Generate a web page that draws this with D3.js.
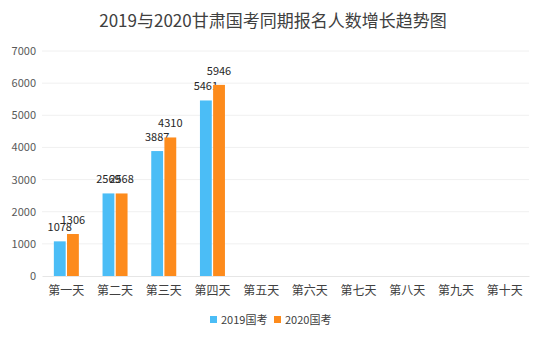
<!DOCTYPE html>
<html>
<head>
<meta charset="utf-8">
<script src="https://cdn.jsdelivr.net/npm/d3@7"></script>
<style>
  html, body { margin: 0; padding: 0; background: #fff; }
  svg { display: block; font-family: "Noto Sans CJK SC", "Noto Sans", sans-serif; }
</style>
</head>
<body>
<svg id="chart" width="546" height="340"></svg>
<script>
// Registration counts for each of the first ten days
const days = ["第一天", "第二天", "第三天", "第四天", "第五天", "第六天", "第七天", "第八天", "第九天", "第十天"];
const seriesNames = ["2019国考", "2020国考"];
const values2019 = [1078, 2569, 3887, 5461, null, null, null, null, null, null];
const values2020 = [1306, 2568, 4310, 5946, null, null, null, null, null, null];
const yTicks = [0, 1000, 2000, 3000, 4000, 5000, 6000, 7000];
const colors = ["#4bbdf6", "#fd8b1c"];

const svg = d3.select("#chart");
const W = 546, H = 340;
const margin = { left: 42, right: 17, top: 51, bottom: 64 };
const innerW = W - margin.left - margin.right;
const innerH = H - margin.top - margin.bottom;

svg.append("text")
  .attr("x", W / 2).attr("y", 27)
  .attr("text-anchor", "middle")
  .attr("font-size", 17)
  .attr("fill", "#404040")
  .text("2019与2020甘肃国考同期报名人数增长趋势图");

const g = svg.append("g").attr("transform", `translate(${margin.left},${margin.top})`);

const x = d3.scaleBand().domain(days).range([0, innerW]);
const xs = d3.scaleBand().domain(seriesNames).range([x.bandwidth() / 2 - 12.5, x.bandwidth() / 2 + 12.5]).paddingInner(0.1);
const y = d3.scaleLinear().domain([0, 7000]).range([innerH, 0]);

// horizontal gridlines
g.append("g").selectAll("line").data(yTicks.slice(1)).join("line")
  .attr("x1", 0).attr("x2", innerW)
  .attr("y1", d => y(d)).attr("y2", d => y(d))
  .attr("stroke", "#f0f0f0").attr("stroke-width", 1);

// y axis labels
const yAxis = g.append("g").call(d3.axisLeft(y).tickValues(yTicks).tickFormat(d3.format("d")).tickSize(0).tickPadding(6));
yAxis.select(".domain").remove();
yAxis.selectAll("text").attr("font-size", 11).attr("fill", "#595959")
  .attr("font-family", "\"Noto Sans CJK SC\", sans-serif");

// x axis
const xAxis = g.append("g").attr("transform", `translate(0,${innerH})`)
  .call(d3.axisBottom(x).tickSize(0).tickPadding(10));
xAxis.select(".domain").attr("stroke", "#e6e6e6");
xAxis.selectAll("text").attr("font-size", 12).attr("fill", "#404040")
  .attr("font-family", "\"Noto Sans CJK SC\", sans-serif");

const rows = days.map((d, i) => ({ day: d, vals: [values2019[i], values2020[i]] }));

const groups = g.selectAll(".grp").data(rows).join("g")
  .attr("class", "grp")
  .attr("transform", d => `translate(${x(d.day)},0)`);

const cells = groups.selectAll("g").data(d => d.vals.map((v, j) => ({ key: seriesNames[j], v, j })).filter(c => c.v != null))
  .join("g");

cells.append("rect")
  .attr("x", d => xs(d.key))
  .attr("width", xs.bandwidth())
  .attr("y", d => y(d.v))
  .attr("height", d => innerH - y(d.v))
  .attr("fill", d => colors[d.j]);

cells.append("text")
  .attr("x", d => xs(d.key) + xs.bandwidth() / 2)
  .attr("y", d => y(d.v) - 10)
  .attr("text-anchor", "middle")
  .attr("font-size", 11)
  .attr("fill", "#262626")
  .text(d => d.v);

// legend
const legend = svg.append("g").attr("transform", "translate(210,320)");
const items = legend.selectAll("g").data(seriesNames).join("g")
  .attr("transform", (d, i) => `translate(${i * 64},0)`);
items.append("rect").attr("x", 0).attr("y", -4).attr("width", 7).attr("height", 7)
  .attr("fill", (d, i) => colors[i]);
items.append("text").attr("x", 11).attr("y", 0).attr("dy", "0.35em")
  .attr("font-size", 11).attr("fill", "#404040").text(d => d);
</script>
</body>
</html>
